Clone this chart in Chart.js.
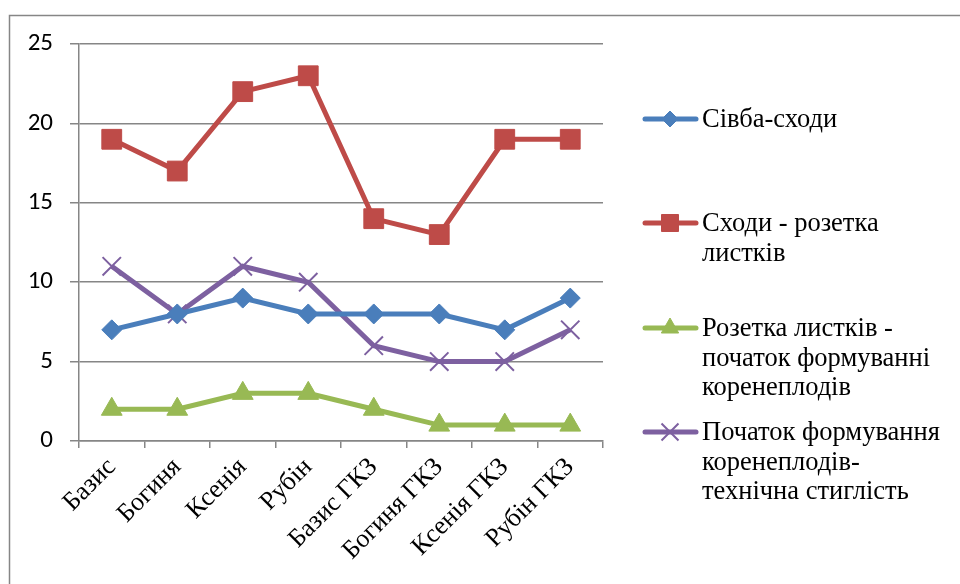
<!DOCTYPE html>
<html>
<head>
<meta charset="utf-8">
<script src="https://cdn.jsdelivr.net/npm/chart.js@4/dist/chart.umd.min.js"></script>
<style>
  html, body { margin: 0; padding: 0; background: #fff; }
  #wrap { width: 960px; height: 584px; position: relative; overflow: hidden; }
  .legend-text {
    position: absolute;
    left: 702px;
    font-family: "Liberation Serif", "Times New Roman", serif;
    font-size: 26.5px;
    line-height: 29.5px;
    color: #000;
    white-space: nowrap;
  }
</style>
</head>
<body>
<div id="wrap"><canvas id="chart" width="960" height="584"></canvas></div>
<script>
// categories and series
const categories = ["Базис", "Богиня", "Ксенія", "Рубін", "Базис ГКЗ", "Богиня ГКЗ", "Ксенія ГКЗ", "Рубін ГКЗ"];
const sowingToSprouts = [7, 8, 9, 8, 8, 8, 7, 9];
const sproutsToRosette = [19, 17, 22, 23, 14, 13, 19, 19];
const rosetteToRoots = [2, 2, 3, 3, 2, 1, 1, 1];
const rootsToMaturity = [11, 8, 11, 10, 6, 5, 5, 7];
const yTicks = [0, 5, 10, 15, 20, 25];

// legend labels, already split into lines as in the picture
const legendLines = [
    ["Сівба-сходи"],
    ["Сходи - розетка", "листків"],
    ["Розетка листків -", "початок формуванні", "коренеплодів"],
    ["Початок формування", "коренеплодів-", "технічна стиглість"]
];
const legendY = [119, 223, 328, 432];
const legendRadius = [8, 12, 10, 12];

const serif = '"Liberation Serif", "Times New Roman", serif';
const calibri = 'Carlito, Calibri, "Liberation Sans", sans-serif';
const gray = '#868686';

function series(label, data, color, style, radius, pointBorder) {
    return {
        label: label,
        data: data,
        borderColor: color,
        backgroundColor: color,
        borderWidth: 5,
        pointStyle: style,
        pointRadius: radius,
        pointHoverRadius: radius,
        pointBorderWidth: pointBorder,
        pointBackgroundColor: color,
        pointBorderColor: color,
        tension: 0
    };
}

// outer frame of the picture (left and top edges only are visible)
const framePlugin = {
    id: 'frame',
    beforeDraw(chart) {
        const ctx = chart.ctx;
        ctx.save();
        ctx.strokeStyle = gray;
        ctx.lineWidth = 1.5;
        ctx.beginPath();
        ctx.moveTo(9.5, 600);
        ctx.lineTo(9.5, 15.5);
        ctx.lineTo(960, 15.5);
        ctx.stroke();
        ctx.restore();
    }
};

// legend symbols on the canvas; the labels are HTML text next to them
const legendPlugin = {
    id: 'legendSymbols',
    afterDraw(chart) {
        const ctx = chart.ctx;
        ctx.save();
        chart.data.datasets.forEach((ds, i) => {
            const y = legendY[i];
            ctx.strokeStyle = ds.borderColor;
            ctx.lineWidth = 5;
            ctx.lineCap = 'round';
            ctx.beginPath();
            ctx.moveTo(645, y);
            ctx.lineTo(696, y);
            ctx.stroke();
            ctx.lineCap = 'butt';
            ctx.fillStyle = ds.borderColor;
            ctx.lineWidth = ds.pointBorderWidth;
            Chart.helpers.drawPoint(ctx, {
                pointStyle: ds.pointStyle,
                radius: legendRadius[i],
                borderWidth: ds.pointBorderWidth,
                rotation: 0
            }, 670, y);
        });
        ctx.restore();
    }
};

function addLegendText() {
    const wrap = document.getElementById('wrap');
    legendLines.forEach((lines, i) => {
        const div = document.createElement('div');
        div.className = 'legend-text';
        div.style.top = (legendY[i] - 14.75) + 'px';
        div.innerHTML = lines.join('<br>');
        wrap.appendChild(div);
    });
}

function drawChart() {
    new Chart(document.getElementById('chart'), {
        type: 'line',
        data: {
            labels: categories,
            datasets: [
                series('Сівба-сходи', sowingToSprouts, '#4A7EBB', 'rectRot', 10, 1),
                series('Сходи - розетка листків', sproutsToRosette, '#BE4B48', 'rect', 14, 1),
                series('Розетка листків - початок формуванні коренеплодів', rosetteToRoots, '#98B954', 'triangle', 12, 1),
                series('Початок формування коренеплодів-технічна стиглість', rootsToMaturity, '#7D60A0', 'crossRot', 13, 2)
            ]
        },
        options: {
            responsive: false,
            animation: false,
            events: [],
            layout: { padding: { left: 0, top: 44, right: 357, bottom: 0 } },
            plugins: {
                legend: { display: false },
                tooltip: { enabled: false }
            },
            scales: {
                x: {
                    offset: true,
                    grid: {
                        display: true,
                        drawOnChartArea: false,
                        drawTicks: true,
                        tickLength: 7,
                        color: gray,
                        lineWidth: 1.5,
                        offset: true
                    },
                    border: { color: gray, width: 1.5 },
                    ticks: {
                        color: '#000',
                        font: { family: serif, size: 26 },
                        minRotation: 45,
                        maxRotation: 45,
                        autoSkip: false,
                        padding: 4
                    },
                    afterFit(scale) { scale.height = 143; }
                },
                y: {
                    min: 0,
                    max: 25,
                    afterBuildTicks(scale) { scale.ticks = yTicks.map(v => ({ value: v })); },
                    grid: {
                        color: gray,
                        lineWidth: 1.5,
                        tickLength: 9,
                        drawTicks: true
                    },
                    border: { color: gray, width: 1.5 },
                    ticks: {
                        color: '#000',
                        font: { family: calibri, size: 25 },
                        padding: 17
                    },
                    afterFit(scale) { scale.width = 79; }
                }
            }
        },
        plugins: [framePlugin, legendPlugin]
    });
}

addLegendText();
// make sure the fonts are ready before the canvas draws text
Promise.all([
    document.fonts.load('26px "Liberation Serif"', 'Базис'),
    document.fonts.load('25px Carlito', '25')
]).then(drawChart, drawChart);
</script>
</body>
</html>
